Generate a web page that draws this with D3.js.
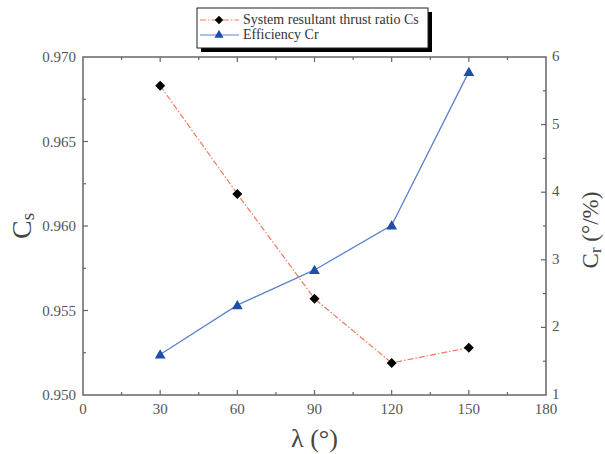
<!DOCTYPE html>
<html lang="en">
<head>
  <meta charset="UTF-8" />
  <title>Cs and Cr vs lambda</title>
  <script src="https://d3js.org/d3.v7.min.js"></script>
  <style>
    body {
      margin: 0;
      background: #fff;
      overflow: hidden;
    }
    svg text {
      font-family: "Times New Roman", Times, "Liberation Serif", serif;
    }
    .tick-label {
      fill: #555;
      font-size: 15px;
    }
  </style>
</head>
<body>
<svg width="605" height="454"></svg>
<script>
// data
const lambdas = [30, 60, 90, 120, 150];
const csValues = [0.9683, 0.9619, 0.9557, 0.9519, 0.9528];
const crValues = [1.60, 2.33, 2.85, 3.51, 5.78];

const xTicks = [0, 30, 60, 90, 120, 150, 180];
const csTicks = [0.950, 0.955, 0.960, 0.965, 0.970];
const crTicks = [1, 2, 3, 4, 5, 6];

const legendNames = ["System resultant thrust ratio Cs", "Efficiency Cr"];

const svg = d3.select("svg");
const pLeft = 83, pRight = 546, pTop = 57, pBottom = 395;

const x = d3.scaleLinear().domain([0, 180]).range([pLeft, pRight]);
const yL = d3.scaleLinear().domain([0.950, 0.970]).range([pBottom, pTop]);
const yR = d3.scaleLinear().domain([1, 6]).range([pBottom, pTop]);

const axisColor = "#666";

// frame
svg.append("rect")
  .attr("x", pLeft).attr("y", pTop)
  .attr("width", pRight - pLeft).attr("height", pBottom - pTop)
  .attr("fill", "none")
  .attr("stroke", axisColor)
  .attr("stroke-width", 1.5);

const g = svg.append("g");

// ticks (inward), major + minor
function vTicks(vals, scale, xPos, dir, len) {
  g.selectAll(null).data(vals).enter().append("line")
    .attr("x1", xPos).attr("x2", xPos + dir * len)
    .attr("y1", d => scale(d)).attr("y2", d => scale(d))
    .attr("stroke", axisColor).attr("stroke-width", 1.2);
}
function hTicks(vals, yPos, dir, len) {
  g.selectAll(null).data(vals).enter().append("line")
    .attr("y1", yPos).attr("y2", yPos + dir * len)
    .attr("x1", d => x(d)).attr("x2", d => x(d))
    .attr("stroke", axisColor).attr("stroke-width", 1.2);
}
const xMinor = d3.range(15, 180, 30);
const csMinor = d3.range(0.9525, 0.970, 0.005);
const crMinor = d3.range(1.5, 6, 1);

hTicks(xTicks.slice(1, -1), pBottom, -1, 5);
hTicks(xMinor, pBottom, -1, 3);
hTicks(xTicks.slice(1, -1), pTop, 1, 5);
hTicks(xMinor, pTop, 1, 3);
vTicks(csTicks.slice(1, -1), yL, pLeft, 1, 5);
vTicks(csMinor, yL, pLeft, 1, 3);
vTicks(crTicks.slice(1, -1), yR, pRight, -1, 5);
vTicks(crMinor, yR, pRight, -1, 3);

// tick labels
svg.selectAll(null).data(xTicks).enter().append("text")
  .attr("class", "tick-label")
  .attr("x", d => x(d)).attr("y", pBottom + 19)
  .attr("text-anchor", "middle")
  .text(d => d);

svg.selectAll(null).data(csTicks).enter().append("text")
  .attr("class", "tick-label")
  .attr("x", pLeft - 7).attr("y", d => yL(d) + 5)
  .attr("text-anchor", "end")
  .text(d => d.toFixed(3));

svg.selectAll(null).data(crTicks).enter().append("text")
  .attr("class", "tick-label")
  .attr("x", pRight + 6).attr("y", d => yR(d) + 4)
  .attr("text-anchor", "start")
  .text(d => d);

// axis titles
const titleColor = "#444";
svg.append("text")
  .attr("x", x(90)).attr("y", 447)
  .attr("text-anchor", "middle")
  .attr("fill", titleColor)
  .style("font-size", "26px")
  .text("λ (°)");

svg.append("text")
  .attr("transform", `translate(31,${(pTop + pBottom) / 2}) rotate(-90)`)
  .attr("text-anchor", "middle")
  .attr("fill", titleColor)
  .style("font-size", "28px")
  .call(t => {
    t.append("tspan").text("C");
    t.append("tspan").attr("dy", 3).style("font-size", "19px").text("s");
  });

svg.append("text")
  .attr("transform", `translate(598,${(pTop + pBottom) / 2 + 4}) rotate(-90)`)
  .attr("text-anchor", "middle")
  .attr("fill", titleColor)
  .style("font-size", "23px")
  .call(t => {
    t.append("tspan").text("C");
    t.append("tspan").attr("dy", 3).style("font-size", "17px").text("r");
    t.append("tspan").attr("dy", -3).text(" (°/%)");
  });

// series
const csColor = "#f07a5e", crLine = "#5b83cc", crMark = "#1f4ea8";
const pts = lambdas.map((l, i) => ({ l, cs: csValues[i], cr: crValues[i] }));

svg.append("path")
  .datum(pts)
  .attr("fill", "none")
  .attr("stroke", csColor)
  .attr("stroke-width", 1.2)
  .attr("stroke-dasharray", "6,2,1.5,2")
  .attr("d", d3.line().x(d => x(d.l)).y(d => yL(d.cs)));

svg.append("path")
  .datum(pts)
  .attr("fill", "none")
  .attr("stroke", crLine)
  .attr("stroke-width", 1.3)
  .attr("d", d3.line().x(d => x(d.l)).y(d => yR(d.cr)));

const square = d3.symbol().type(d3.symbolSquare).size(50);
const triangle = d3.symbol().type(d3.symbolTriangle).size(50);

svg.selectAll(null).data(pts).enter().append("path")
  .attr("transform", d => `translate(${x(d.l)},${yL(d.cs)}) rotate(45)`)
  .attr("d", square)
  .attr("fill", "#000");

svg.selectAll(null).data(pts).enter().append("path")
  .attr("transform", d => `translate(${x(d.l)},${yR(d.cr) + 1})`)
  .attr("d", triangle)
  .attr("fill", crMark);

// legend
const lg = svg.append("g").attr("transform", "translate(197,8)");
const lw = 231, lh = 40;
lg.append("rect")
  .attr("x", 4).attr("y", 4).attr("width", lw).attr("height", lh)
  .attr("fill", "#000");
lg.append("rect")
  .attr("x", 0).attr("y", 0).attr("width", lw).attr("height", lh)
  .attr("fill", "#fff").attr("stroke", "#222").attr("stroke-width", 1);

const legendRows = [
  { name: legendNames[0], stroke: csColor, dash: "6,2,1.5,2", sym: square, rot: 45, fill: "#000" },
  { name: legendNames[1], stroke: crLine, dash: null, sym: triangle, rot: 0, fill: crMark }
];
legendRows.forEach((r, i) => {
  const yy = 12 + i * 15;
  lg.append("line")
    .attr("x1", 3).attr("x2", 42).attr("y1", yy).attr("y2", yy)
    .attr("stroke", r.stroke).attr("stroke-width", 1.2)
    .attr("stroke-dasharray", r.dash);
  lg.append("path")
    .attr("transform", `translate(22,${yy}) rotate(${r.rot})`)
    .attr("d", r.sym.size(36)())
    .attr("fill", r.fill);
  lg.append("text")
    .attr("x", 46).attr("y", yy + 4)
    .attr("fill", "#333")
    .style("font-size", "14px")
    .text(r.name);
});
</script>
</body>
</html>
